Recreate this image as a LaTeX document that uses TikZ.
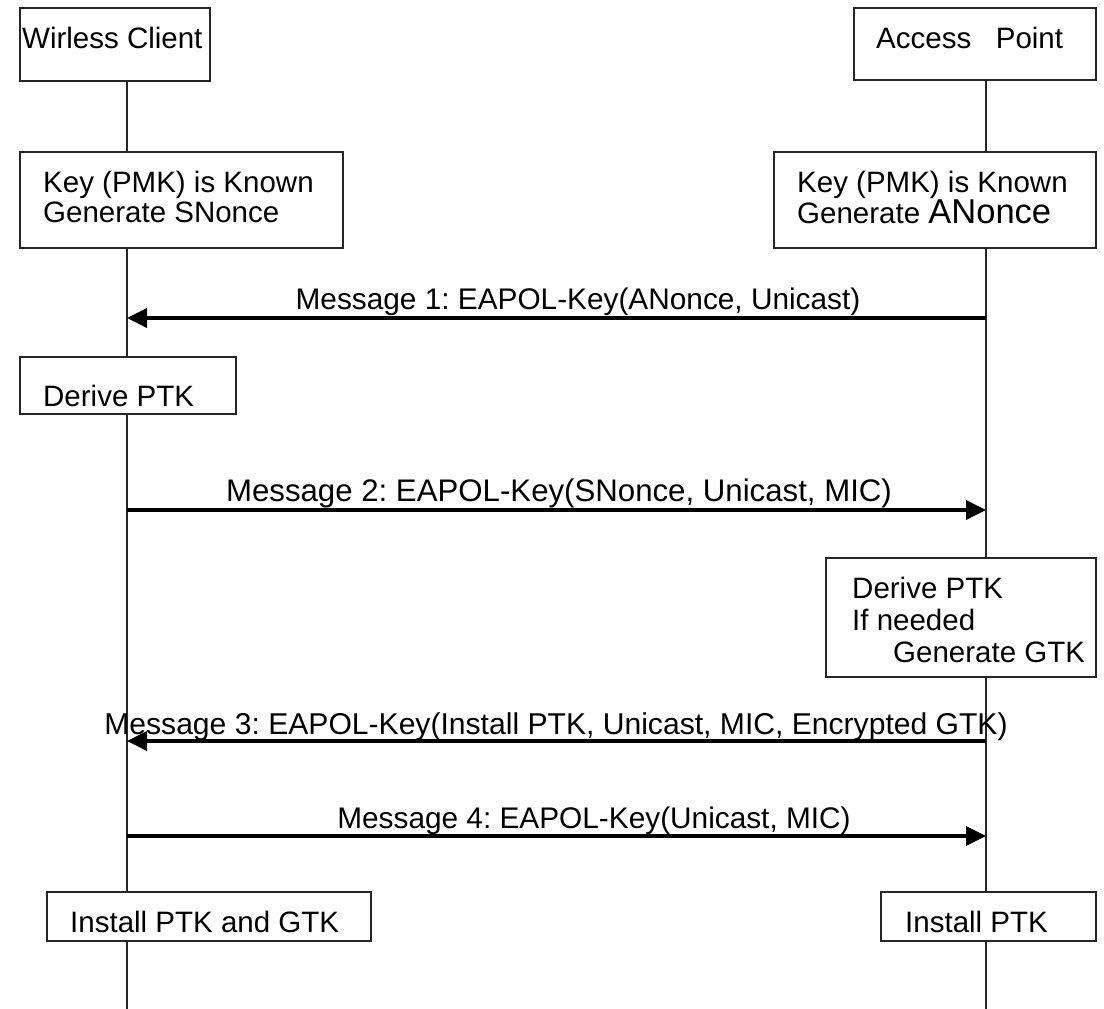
\documentclass[tikz,border=0pt]{standalone}
\usepackage{fontspec}
\setmainfont{Liberation Sans}
\usetikzlibrary{arrows.meta,calc}
\frenchspacing
\begin{document}
\begin{tikzpicture}[x=1pt,y=-1pt,
  box/.style={draw=black!85,line width=2pt,anchor=north west,inner sep=0pt},
  txt/.style={anchor=base west,inner sep=0pt,font=\fontsize{29.5}{32}\selectfont},
  mlabel/.style={anchor=base,inner sep=0pt},
  life/.style={line width=2.8pt,black!85},
  msg/.style={line width=3.6pt,-{Triangle[length=20pt,width=19pt]}},
]
\useasboundingbox (0,0) rectangle (1104,1009);
\fill[white] (0,0) rectangle (1104,1009);
% lifeline x positions
\coordinate (L) at (127,0);
\coordinate (R) at (986,0);
\coordinate (Lend) at (127,1009);
\coordinate (Rend) at (986,1009);
% left boxes
\node[box,minimum width=190pt,minimum height=73pt] (wc) at (19,7) {};
\node[txt] at ($(wc.north west)+(3,41)$) {Wirless Client};
\node[box,minimum width=323pt,minimum height=96pt] (kl) at (19,151) {};
\node[txt] at ($(kl.north west)+(24,41)$) {Key (PMK) is Known};
\node[txt] at ($(kl.north west)+(24,71)$) {Generate SNonce};
\node[box,minimum width=216pt,minimum height=57pt] (dl) at (19,356) {};
\node[txt] at ($(dl.north west)+(24,50)$) {Derive PTK};
\node[box,minimum width=324pt,minimum height=49pt] (il) at (46,891) {};
\node[txt] at ($(il.north west)+(24,41)$) {Install PTK and GTK};
% right boxes
\node[box,minimum width=242pt,minimum height=72pt] (ap) at (853,7) {};
\node[txt] at ($(ap.north west)+(23,41)$) {Access\ \ \ Point};
\node[box,minimum width=322pt,minimum height=96pt] (kr) at (773,151) {};
\node[txt] at ($(kr.north west)+(24,41)$) {Key (PMK) is Known};
\node[txt] at ($(kr.north west)+(24,72)$) {Generate {\fontsize{34.5}{36}\selectfont ANonce}};
\node[box,minimum width=270pt,minimum height=119pt] (dr) at (825,557) {};
\node[txt] at ($(dr.north west)+(27,41)$) {Derive PTK};
\node[txt] at ($(dr.north west)+(27,73)$) {If needed};
\node[txt] at ($(dr.north west)+(68,105)$) {Generate GTK};
\node[box,minimum width=215pt,minimum height=49pt] (ir) at (880,891) {};
\node[txt] at ($(ir.north west)+(25,41)$) {Install PTK};
% lifelines
\draw[life] (wc.south -| L) -- (kl.north -| L);
\draw[life] (kl.south -| L) -- (dl.north -| L);
\draw[life] (dl.south -| L) -- (il.north -| L);
\draw[life] (il.south -| L) -- (Lend);
\draw[life] (ap.south -| R) -- (kr.north -| R);
\draw[life] (kr.south -| R) -- (dr.north -| R);
\draw[life] (dr.south -| R) -- (ir.north -| R);
\draw[life] (ir.south -| R) -- (Rend);
% messages
\coordinate (m1l) at (127,318); \coordinate (m1r) at (986,318);
\coordinate (m2l) at (127,510); \coordinate (m2r) at (986,510);
\coordinate (m3l) at (127,741); \coordinate (m3r) at (986,741);
\coordinate (m4l) at (127,836); \coordinate (m4r) at (986,836);
\draw[msg] (m1r) -- (m1l);
\draw[msg] (m2l) -- (m2r);
\draw[msg] (m3r) -- (m3l);
\draw[msg] (m4l) -- (m4r);
\node[mlabel,font=\fontsize{29.8}{32}\selectfont] (t1) at (578,309) {Message 1: EAPOL-Key(ANonce, Unicast)};
\node[mlabel,font=\fontsize{31.2}{33}\selectfont] (t2) at (559,501) {Message 2: EAPOL-Key(SNonce, Unicast, MIC)};
\node[mlabel,font=\fontsize{30.1}{32}\selectfont] (t3) at (556,734) {Message 3: EAPOL-Key(Install PTK, Unicast, MIC, Encrypted GTK)};
\node[mlabel,font=\fontsize{29.8}{32}\selectfont] (t4) at (594,828) {Message 4: EAPOL-Key(Unicast, MIC)};
\end{tikzpicture}
\end{document}
